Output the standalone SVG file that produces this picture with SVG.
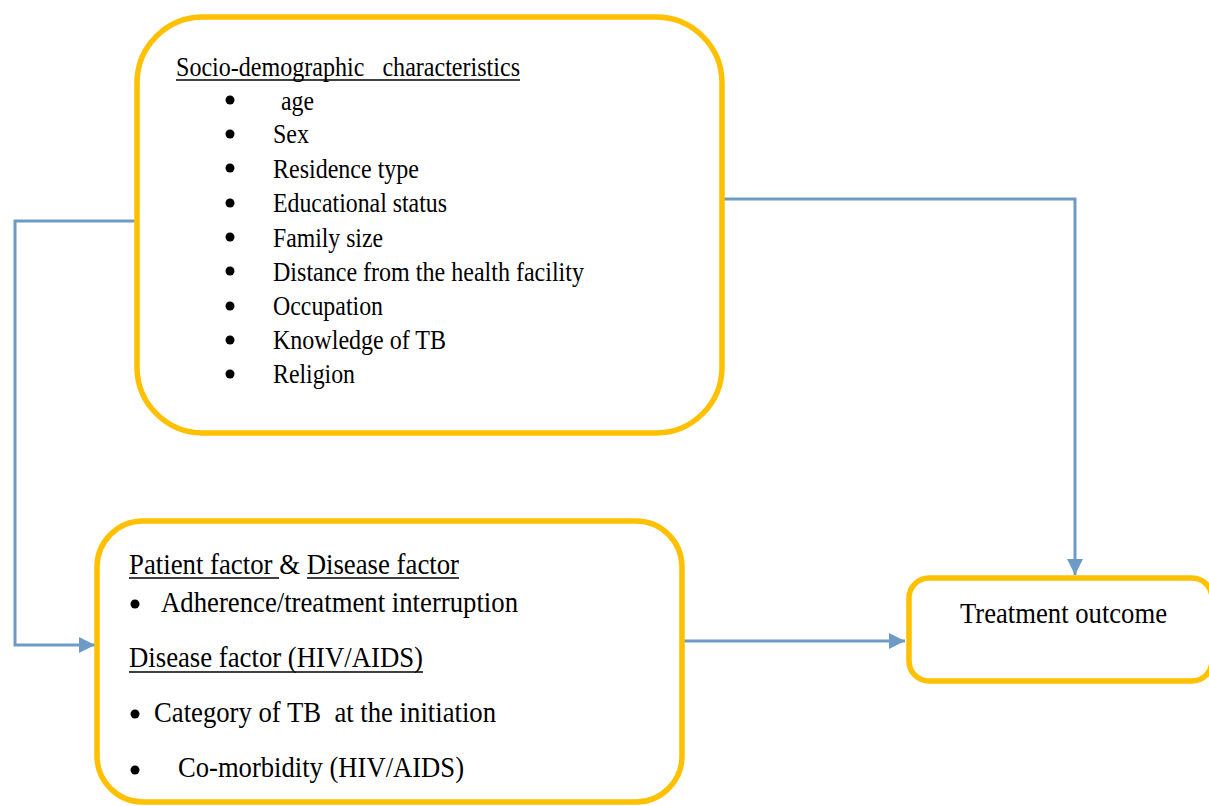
<svg xmlns="http://www.w3.org/2000/svg" width="1209" height="806" viewBox="0 0 1209 806">
<style>
.box{fill:#fff;stroke:#FFC000;stroke-width:5.5}
.t{font-family:'Liberation Serif','Times New Roman',serif;fill:#000;white-space:pre}
.s28{font-size:28px}
.s30{font-size:30px}
.ul{stroke:#000;stroke-width:1.3}
.con{fill:none;stroke:#6E9BC5;stroke-width:3}
</style>
<defs>
<marker id="arr" viewBox="0 0 10 10" refX="10" refY="5" markerWidth="18" markerHeight="16" markerUnits="userSpaceOnUse" orient="auto">
<path d="M0,0 L10,5 L0,10 z" fill="#6E9BC5"/>
</marker>
</defs>
<rect width="1209" height="806" fill="#fff"/>
<g id="connectors">
<path class="con" d="M137,221 H15 V645 H95" marker-end="url(#arr)"/>
<path class="con" d="M722,199 H1075 V575" marker-end="url(#arr)"/>
<path class="con" d="M683,641 H905" marker-end="url(#arr)"/>
</g>
<g id="socio">
<rect class="box" x="137" y="17" width="585" height="416" rx="66" ry="66"/>
<text class="t s28" x="176" y="76" textLength="344" lengthAdjust="spacingAndGlyphs" xml:space="preserve">Socio-demographic   characteristics</text>
<line class="ul" x1="176" y1="80" x2="520" y2="80"/>
<g fill="#000">
<circle cx="230" cy="100" r="4.5"/>
<circle cx="230" cy="134" r="4.5"/>
<circle cx="230" cy="168" r="4.5"/>
<circle cx="230" cy="203" r="4.5"/>
<circle cx="230" cy="237" r="4.5"/>
<circle cx="230" cy="271" r="4.5"/>
<circle cx="230" cy="306" r="4.5"/>
<circle cx="230" cy="340" r="4.5"/>
<circle cx="230" cy="374" r="4.5"/>
</g>
<text class="t s28" x="281" y="110" textLength="33" lengthAdjust="spacingAndGlyphs">age</text>
<text class="t s28" x="273" y="143" textLength="36" lengthAdjust="spacingAndGlyphs">Sex</text>
<text class="t s28" x="273" y="178" textLength="146" lengthAdjust="spacingAndGlyphs">Residence type</text>
<text class="t s28" x="273" y="212" textLength="174" lengthAdjust="spacingAndGlyphs">Educational status</text>
<text class="t s28" x="273" y="247" textLength="110" lengthAdjust="spacingAndGlyphs">Family size</text>
<text class="t s28" x="273" y="281" textLength="311" lengthAdjust="spacingAndGlyphs">Distance from the health facility</text>
<text class="t s28" x="273" y="315" textLength="110" lengthAdjust="spacingAndGlyphs">Occupation</text>
<text class="t s28" x="273" y="349" textLength="173" lengthAdjust="spacingAndGlyphs">Knowledge of TB</text>
<text class="t s28" x="273" y="383" textLength="82" lengthAdjust="spacingAndGlyphs">Religion</text>
</g>
<g id="factors">
<rect class="box" x="97" y="521" width="585" height="281" rx="46" ry="46"/>
<text class="t s30" x="129" y="574" textLength="330" lengthAdjust="spacingAndGlyphs">Patient factor &amp; Disease factor</text>
<line class="ul" x1="129" y1="578" x2="279" y2="578"/>
<line class="ul" x1="307" y1="578" x2="459" y2="578"/>
<circle cx="135" cy="604" r="4.5" fill="#000"/>
<text class="t s30" x="161" y="612" textLength="357" lengthAdjust="spacingAndGlyphs">Adherence/treatment interruption</text>
<text class="t s30" x="129" y="667" textLength="294" lengthAdjust="spacingAndGlyphs">Disease factor (HIV/AIDS)</text>
<line class="ul" x1="129" y1="672" x2="423" y2="672"/>
<circle cx="135" cy="714" r="4.5" fill="#000"/>
<text class="t s30" x="154" y="722" textLength="342" lengthAdjust="spacingAndGlyphs" xml:space="preserve">Category of TB  at the initiation</text>
<circle cx="135" cy="770" r="4.5" fill="#000"/>
<text class="t s30" x="178" y="777" textLength="286" lengthAdjust="spacingAndGlyphs">Co-morbidity (HIV/AIDS)</text>
</g>
<g id="outcome">
<rect class="box" x="909" y="578" width="303" height="103" rx="20" ry="20"/>
<text class="t s30" x="960" y="623" textLength="207" lengthAdjust="spacingAndGlyphs">Treatment outcome</text>
</g>
</svg>
